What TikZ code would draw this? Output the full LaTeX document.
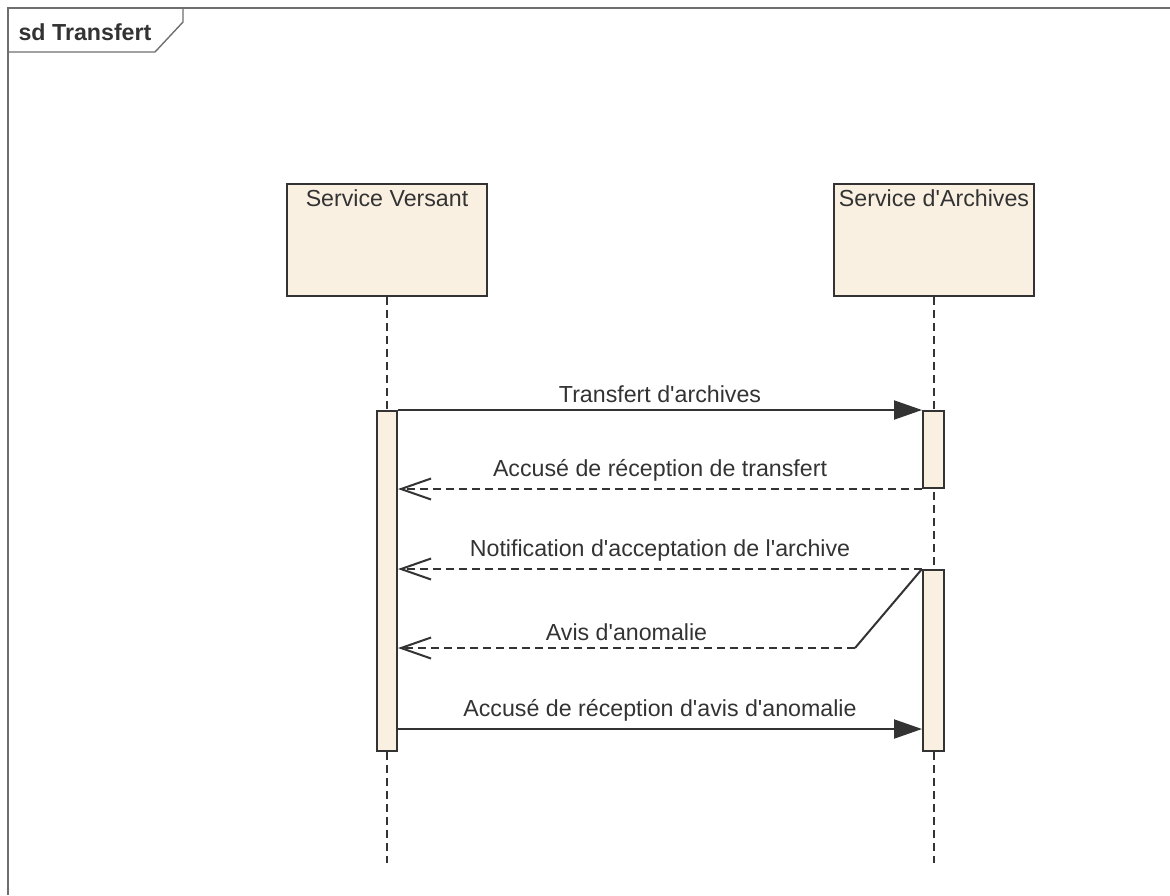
\documentclass[tikz,border=0pt]{standalone}
\usepackage{fontspec}
\setmainfont{Liberation Sans}[Ligatures=TeXOff]
\usetikzlibrary{arrows.meta,positioning,fit}
\definecolor{lifefill}{RGB}{250,240,226}
\definecolor{umlline}{RGB}{51,51,51}
\definecolor{framegray}{RGB}{110,110,110}
\tikzset{
	txt/.style={text=umlline, font=\fontsize{11.6}{14}\selectfont},
	head/.style={draw=umlline, line width=1pt, fill=lifefill, minimum width=100pt, minimum height=56pt, inner sep=0pt},
	bar/.style={draw=umlline, line width=1pt, fill=lifefill, inner sep=0pt},
	lifeline/.style={draw=umlline, line width=0.7pt, dash pattern=on 4pt off 2.5pt},
	call/.style={draw=umlline, line width=1pt, -{Triangle[length=14pt,width=9.5pt]}},
	reply/.style={draw=umlline, line width=1pt, dash pattern=on 4pt off 2.5pt, -{Straight Barb[length=15pt,width=10.5pt,line width=1pt]}},
	msg/.style={txt, above}
}
\begin{document}
\begin{tikzpicture}[x=0.5pt,y=-0.5pt]
	\useasboundingbox (0,0) rectangle (1170,895);
	% frame
	\draw[framegray, line width=0.7pt] (1170,8) -- (8,8) -- (8,895);
	\draw[framegray, line width=0.7pt] (8,52) -- (155,52) -- (183,22) -- (183,8);
	\node[txt, font=\fontsize{11.6}{14}\selectfont\bfseries] (title) at (85,32) {sd Transfert};
	% lifelines
	\node[head, label={[txt, anchor=north]north:Service Versant}] (versant) at (387,240) {};
	\node[head, label={[txt, anchor=north]north:Service d'Archives}] (archives) at (934,240) {};
	\draw[lifeline] (versant.south) -- (versant.south |- 0,863);
	\draw[lifeline] (archives.south) -- (archives.south |- 0,863);
	% activations
	\node[bar, fit={(377,411) (397,751)}] (actv) {};
	\node[bar, fit={(923,411) (944,488)}] (acta1) {};
	\node[bar, fit={(923,570) (944,751)}] (acta2) {};
	% messages
	\draw[call] (actv.north east) -- node[msg] {Transfert d'archives} (acta1.north west);
	\draw[reply] (acta1.south west) -- node[msg] {Accusé de réception de transfert} (actv.east |- acta1.south);
	\draw[reply] (acta2.north west) -- node[msg] {Notification d'acceptation de l'archive} (actv.east |- acta2.north);
	\coordinate (kink) at (855,648);
	\draw[umlline, line width=1pt] (acta2.north west) -- (kink);
	\draw[reply] (kink) -- node[msg] {Avis d'anomalie} (actv.east |- kink);
	\coordinate (ack) at (0,729);
	\draw[call] (actv.east |- ack) -- node[msg] {Accusé de réception d'avis d'anomalie} (acta2.west |- ack);
\end{tikzpicture}
\end{document}
